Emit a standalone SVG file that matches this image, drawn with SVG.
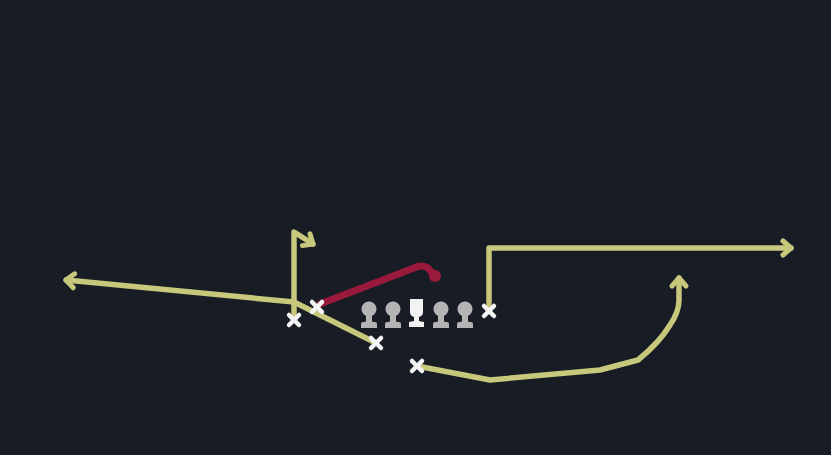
<svg xmlns="http://www.w3.org/2000/svg" width="831" height="455" viewBox="0 0 831 455">
  <defs>
    <style>
      .route { fill: none; stroke: #c8c87c; stroke-width: 5.5; stroke-linejoin: round; stroke-linecap: round; }
      .block { fill: none; stroke: #9a1a3c; stroke-width: 7; stroke-linejoin: round; stroke-linecap: round; }
      .xmark { stroke: #f4f4f4; stroke-width: 4.5; stroke-linecap: round; }
      .lineman { fill: #b4b4b4; }
      .center { fill: #f2f2f2; }
    </style>
    <marker id="chev" markerUnits="userSpaceOnUse" markerWidth="24" markerHeight="24" viewBox="-12 -12 24 24" refX="0" refY="0" orient="auto">
      <path d="M-8,-7 L0,0 L-8,7" fill="none" stroke="#c8c87c" stroke-width="5" stroke-linecap="round" stroke-linejoin="round"/>
    </marker>
    <g id="x">
      <line class="xmark" x1="-5" y1="-5" x2="5" y2="5"/>
      <line class="xmark" x1="5" y1="-5" x2="-5" y2="5"/>
    </g>
    <path id="olman" d="M0,-7.5 A7.5,7.5 0 1 1 -0.01,-7.5 Z M-3,4 L3,4 L3,12 Q3,13 5,13 L6,13 Q8,13 8,15 L8,19 L-8,19 L-8,15 Q-8,13 -6,13 L-5,13 Q-3,13 -3,12 Z"/>
  </defs>
  <rect width="831" height="455" fill="#181c25"/>

  <g id="connectors">
    <path class="route" d="M376,343 L294,302 L66,280" marker-end="url(#chev)"/>
    <path class="route" d="M294,318 L294,232 L313,244" marker-end="url(#chev)"/>
    <path class="route" d="M489,309 L489,248 L791,248" marker-end="url(#chev)"/>
    <path class="route" d="M417,366 L490,380 L600,370 L638,360 Q660,342 670,325 Q679,312 679,300 L679,278" marker-end="url(#chev)"/>
    <path class="block" d="M320,304 L414,268 Q422,264 428,268 L434,275"/>
    <circle cx="435" cy="276" r="6" fill="#9a1a3c"/>
  </g>

  <g id="lt"><use href="#olman" class="lineman" x="369" y="309"/></g>
  <g id="lg"><use href="#olman" class="lineman" x="393" y="309"/></g>
  <g id="c"><path class="center" d="M410,299 L423,299 L423,312 Q423,316 419,317 L419,321 L424,322 L424,327 L409,327 L409,322 L414,321 L414,317 Q410,316 410,312 Z"/></g>
  <g id="rg"><use href="#olman" class="lineman" x="441" y="309"/></g>
  <g id="rt"><use href="#olman" class="lineman" x="465" y="309"/></g>

  <g id="x1"><use href="#x" x="294" y="320"/></g>
  <g id="x2"><use href="#x" x="317" y="307"/></g>
  <g id="x3"><use href="#x" x="376" y="343"/></g>
  <g id="x4"><use href="#x" x="417" y="366"/></g>
  <g id="x5"><use href="#x" x="489" y="311"/></g>
</svg>
